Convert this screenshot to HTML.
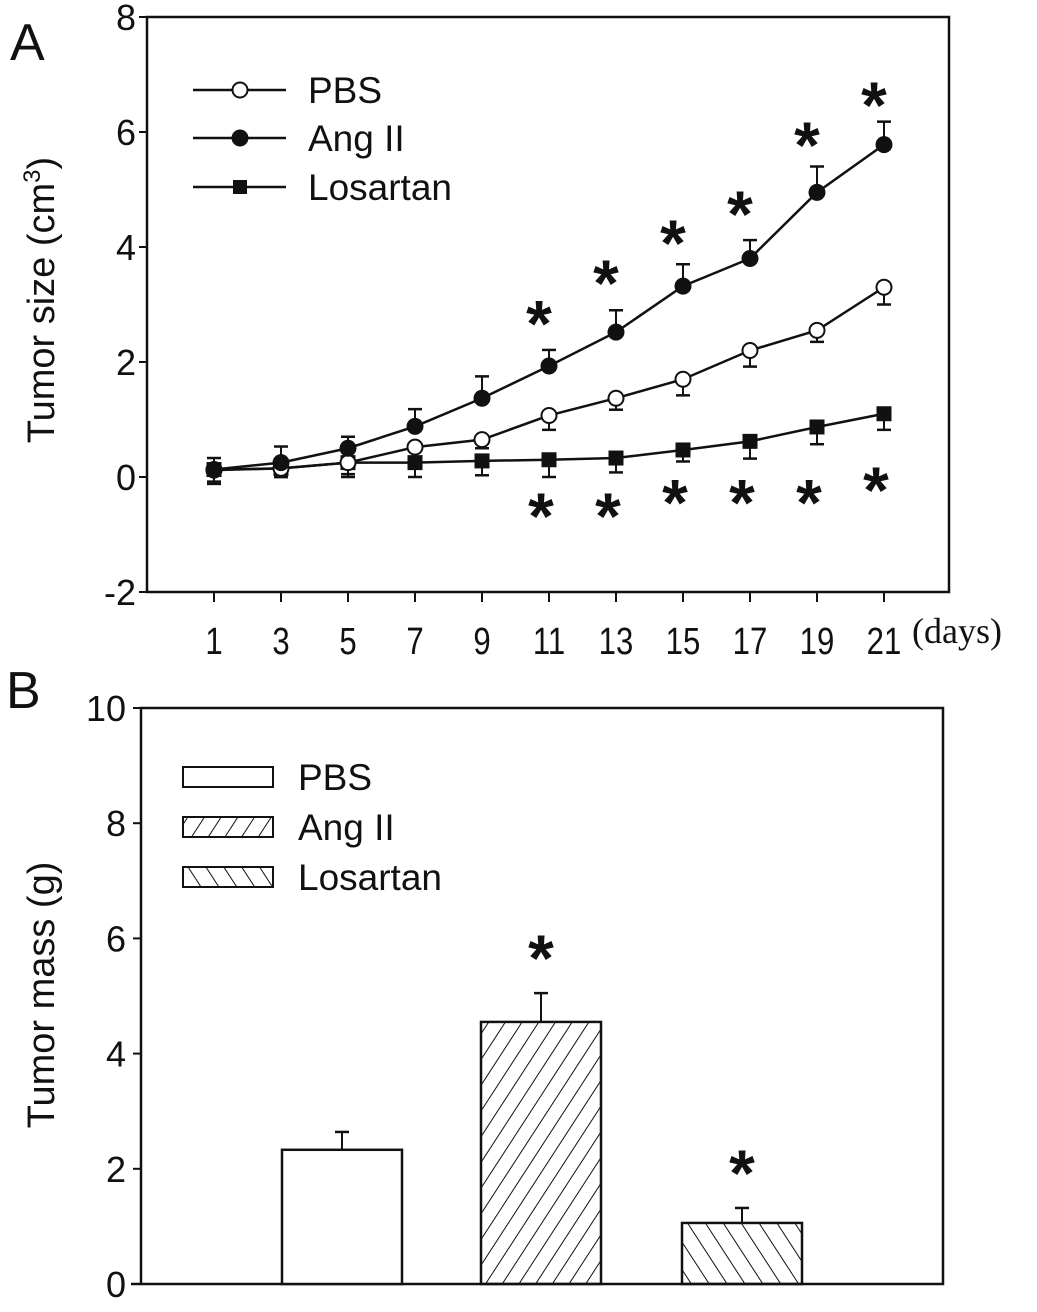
<!DOCTYPE html>
<html><head><meta charset="utf-8"><style>
body{margin:0;background:#fff}
svg{display:block;font-family:"Liberation Sans",Arial,sans-serif}
</style></head><body>
<svg id="c" width="1037" height="1312" viewBox="0 0 1037 1312"></svg>
<script>
const days=[1,3,5,7,9,11,13,15,17,19,21];
const pbs=[0.12,0.15,0.25,0.52,0.65,1.07,1.37,1.7,2.2,2.55,3.3];
const pbsErr=[0.2,0.15,0.2,0.25,0.15,0.25,0.2,0.28,0.28,0.2,0.3];
const ang=[0.13,0.25,0.5,0.88,1.37,1.93,2.52,3.32,3.8,4.95,5.78];
const angErr=[0.2,0.28,0.2,0.3,0.38,0.28,0.38,0.38,0.32,0.45,0.4];
const los=[0.13,0.15,0.25,0.25,0.28,0.3,0.33,0.47,0.62,0.87,1.1];
const losErr=[0.25,0.15,0.25,0.25,0.25,0.3,0.25,0.2,0.3,0.3,0.28];
const yTicksA=[-2,0,2,4,6,8];
const starTopDays=[11,13,15,17,19,21];
const starTopVals=[2.9,3.6,4.3,4.8,6.0,6.7];
const starBotDays=[11,13,15,17,19,21];
const starBotVals=[-0.45,-0.45,-0.22,-0.22,-0.22,0.0];
const groups=["PBS","Ang II","Losartan"];
const mass=[2.33,4.55,1.06];
const massErr=[0.31,0.5,0.26];
const yTicksB=[0,2,4,6,8,10];
const starB=[false,true,true];

const NS="http://www.w3.org/2000/svg",S=document.getElementById('c');
function el(t,a,p){const e=document.createElementNS(NS,t);for(const k in a)e.setAttribute(k,a[k]);(p||S).appendChild(e);return e;}
function tx(x,y,s,size,anchor,extra){const e=el('text',Object.assign({x:x,y:y,'font-size':size,'text-anchor':anchor||'start',fill:'#111'},extra||{}));e.textContent=s;return e;}
function star(x,y){const t=tx(x,y,'*',66,'middle',{'font-weight':'bold'});}

const defs=el('defs',{});
const p1=el('pattern',{id:'h1',patternUnits:'userSpaceOnUse',width:14,height:14,patternTransform:'rotate(33)'},defs);
el('line',{x1:0,y1:0,x2:0,y2:14,stroke:'#111','stroke-width':2},p1);
const p2=el('pattern',{id:'h2',patternUnits:'userSpaceOnUse',width:15,height:15,patternTransform:'rotate(-33)'},defs);
el('line',{x1:0,y1:0,x2:0,y2:15,stroke:'#111','stroke-width':2},p2);

// ===== Panel A
const AL=147,AR=949,AT=17,AB=592;
const xA=d=>214+(d-1)*33.5;
const yA=v=>477-v*57.5;
let g=el('g',{},S);
let e=tx(10,60,'A',52);
e=el('rect',{x:AL,y:AT,width:AR-AL,height:AB-AT,fill:'none',stroke:'#111','stroke-width':2.5},g);

yTicksA.forEach(v=>{el('line',{x1:AL-8,x2:AL,y1:yA(v),y2:yA(v),stroke:'#111','stroke-width':2},g);
 const t=tx(136,yA(v)+13,String(v),36,'end');});
days.forEach(d=>{el('line',{x1:xA(d),x2:xA(d),y1:AB,y2:AB+10,stroke:'#111','stroke-width':2},g);
 const t=tx(xA(d),654,String(d),38,'middle',{transform:`translate(${xA(d)},0) scale(0.82,1) translate(${-xA(d)},0)`});});
e=tx(912,643,'(days)',36,'start',{'font-family':'Liberation Serif, serif'});
e=el('text',{x:0,y:0,'font-size':38,'text-anchor':'middle',fill:'#111',transform:'translate(54,300) rotate(-90)'});
e.innerHTML='Tumor size (cm<tspan dy="-14" font-size="24">3</tspan><tspan dy="14">)</tspan>';


function series(vals,errs,dir,marker,name){
 const sg=el('g',{},g);
 vals.forEach((v,i)=>{const x=xA(days[i]),y=yA(v),y2=yA(v+dir*errs[i]);
  el('line',{x1:x,x2:x,y1:y,y2:y2,stroke:'#111','stroke-width':2},sg);
  el('line',{x1:x-7,x2:x+7,y1:y2,y2:y2,stroke:'#111','stroke-width':2.5},sg);});
 el('polyline',{points:vals.map((v,i)=>xA(days[i])+','+yA(v)).join(' '),fill:'none',stroke:'#111','stroke-width':2.5},sg);
 vals.forEach((v,i)=>{const x=xA(days[i]),y=yA(v);let m;
  if(marker==='open')m=el('circle',{cx:x,cy:y,r:7.5,fill:'#fff',stroke:'#111','stroke-width':2},sg);
  else if(marker==='fill')m=el('circle',{cx:x,cy:y,r:8.5,fill:'#111'},sg);
  else m=el('rect',{x:x-7.5,y:y-7.5,width:15,height:15,fill:'#111'},sg);
  });
}
series(los,losErr,-1,'sq','losartan-series');
series(pbs,pbsErr,-1,'open','pbs-series');
series(ang,angErr,1,'fill','ang-ii-series');
starTopDays.forEach((d,i)=>star(xA(d)-10,yA(starTopVals[i])+36));
starBotDays.forEach((d,i)=>star(xA(d)-8,yA(starBotVals[i])+36));
const legA=el('g',{},g);
[['PBS','open',90],['Ang II','fill',138],['Losartan','sq',187]].forEach(([n,m,y])=>{
 const lg=el('g',{},legA);
 el('line',{x1:193,x2:286,y1:y,y2:y,stroke:'#111','stroke-width':2.5},lg);
 if(m==='open')el('circle',{cx:240,cy:y,r:7.5,fill:'#fff',stroke:'#111','stroke-width':2},lg);
 else if(m==='fill')el('circle',{cx:240,cy:y,r:8.5,fill:'#111'},lg);
 else el('rect',{x:233,y:y-7,width:14,height:14,fill:'#111'},lg);
 tx(308,y+13,n,37);lg.appendChild(S.lastChild);});

// ===== Panel B
const BL=141,BR=943,BT=708,BB=1284;
const yB=v=>BB-v*57.6;
const bx=[282,481,682],bw=120;
const gb=el('g',{},S);
e=tx(6,708,'B',52);
el('polyline',{points:`${BL-10},${BB} ${BR},${BB} ${BR},${BT} ${BL},${BT} ${BL},${BB}`,fill:'none',stroke:'#111','stroke-width':2.5},gb);
yTicksB.forEach(v=>{el('line',{x1:BL-8,x2:BL,y1:yB(v),y2:yB(v),stroke:'#111','stroke-width':2},gb);
 const t=tx(126,yB(v)+13,String(v),36,'end');});
e=el('text',{x:0,y:0,'font-size':38,'text-anchor':'middle',fill:'#111',transform:'translate(54,995) rotate(-90)'});
e.textContent='Tumor mass (g)';
const fills=['#fff','url(#h1)','url(#h2)'];
mass.forEach((v,i)=>{const x=bx[i],cx=x+bw/2,et=yB(v+massErr[i]);
 el('line',{x1:cx,x2:cx,y1:yB(v),y2:et,stroke:'#111','stroke-width':2},gb);
 el('line',{x1:cx-7,x2:cx+7,y1:et,y2:et,stroke:'#111','stroke-width':2.5},gb);
 const r=el('rect',{x:x,y:yB(v),width:bw,height:BB-yB(v),fill:fills[i],stroke:'#111','stroke-width':2.5},gb);
 
 if(starB[i])star(cx,et-12);
});
const legB=el('g',{},gb);
groups.forEach((n,i)=>{const y=777+i*50;
 const lg=el('g',{},legB);
 el('rect',{x:183,y:y-10,width:90,height:20,fill:fills[i],stroke:'#111','stroke-width':2},lg);
 tx(298,y+13,n,37);lg.appendChild(S.lastChild);});
</script>
</body></html>
